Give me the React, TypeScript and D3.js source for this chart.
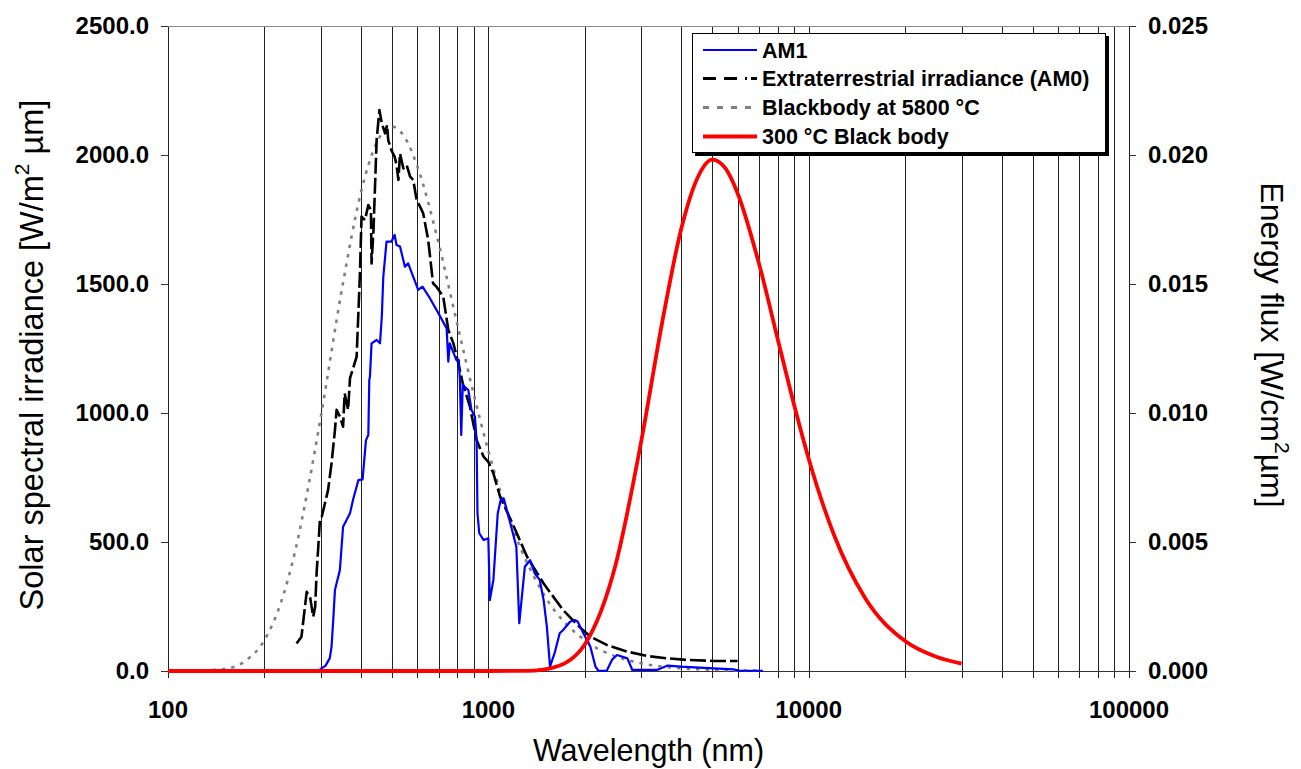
import React from "react";
import * as d3 from "d3";

// ---- data (wavelength nm, value) ----
const am1: [number, number][] = [
  [298, 6], [310, 20], [320, 50], [324, 94], [328, 198], [332, 314], [344, 391], [352, 559],
  [370, 611], [378, 663], [393, 740], [405, 743], [415, 895], [422, 915], [425, 1128],
  [427, 1141], [432, 1270], [448, 1283], [459, 1270], [465, 1373], [470, 1528], [481, 1664],
  [498, 1664], [510, 1690], [517, 1651], [530, 1645], [549, 1567], [562, 1580], [583, 1528],
  [604, 1477], [623, 1490], [657, 1445], [698, 1387], [741, 1328], [750, 1199], [758, 1270],
  [795, 1205], [809, 1205], [815, 1128], [823, 915], [832, 1108], [866, 1089], [886, 1012],
  [908, 986], [919, 895], [925, 611], [937, 534], [966, 508], [1000, 514], [1011, 275],
  [1037, 353], [1070, 611], [1093, 663], [1117, 669], [1164, 585], [1223, 482], [1249, 185],
  [1300, 404], [1350, 430], [1395, 379], [1447, 353], [1488, 275], [1523, 172], [1558, 17],
  [1610, 69], [1670, 146], [1712, 159], [1799, 191], [1862, 198], [1900, 192], [1980, 146],
  [2083, 94], [2160, 17], [2206, 1], [2342, 1], [2431, 43], [2522, 62], [2717, 49],
  [2815, 4], [3359, 4], [3630, 21], [3990, 17], [5050, 10], [5830, 6], [6100, 1], [7200, 1],
];

const am0: [number, number][] = [
  [252, 107], [261, 133], [271, 307], [278, 283], [284, 210], [288, 249], [291, 379],
  [295, 495], [298, 585], [302, 598], [316, 701], [324, 805], [332, 934], [336, 1012],
  [344, 986], [352, 947], [356, 1076], [365, 1012], [370, 1135], [388, 1218], [397, 1528],
  [402, 1761], [412, 1748], [422, 1806], [430, 1787], [432, 1580], [438, 1709], [448, 2058],
  [457, 2174], [465, 2123], [476, 2084], [483, 2116], [487, 2058], [498, 2019], [510, 1993],
  [517, 1961], [524, 1903], [530, 2006], [543, 1948], [556, 1961], [570, 1916], [583, 1903],
  [597, 1826], [612, 1800], [626, 1774], [649, 1671], [672, 1503], [688, 1490], [723, 1451],
  [750, 1322], [778, 1270], [806, 1193], [832, 1115], [876, 1025], [919, 895], [966, 831],
  [1000, 811], [1037, 766], [1088, 676], [1201, 560], [1321, 443], [1488, 339], [1712, 236],
  [1910, 175], [2082, 133], [2342, 101], [2717, 75], [3130, 58], [3630, 49], [4156, 43],
  [5050, 39], [6000, 39],
];

const bb5800: [number, number][] = [
  [120, 0.3], [150, 8], [175, 40], [200, 120], [225, 264], [250, 470], [275, 723], [300, 986],
  [350, 1488], [400, 1854], [450, 2052], [500, 2110], [550, 2066], [600, 1957], [700, 1656],
  [800, 1344], [900, 1074], [1000, 854], [1200, 544], [1500, 291], [2000, 119], [2500, 56],
  [3000, 30], [4000, 10.6], [5000, 4.7], [7000, 1.2],
];

const bb300: [number, number][] = [
  [100, 0], [1000, 0], [1300, 0.000005], [1500, 0.000066], [1800, 0.00043], [2000, 0.00103],
  [2500, 0.00415], [3000, 0.00889], [3500, 0.0136], [4000, 0.01713], [4500, 0.01912],
  [5000, 0.01982], [5500, 0.01948], [6000, 0.01852], [7000, 0.01578], [8000, 0.01288],
  [9000, 0.01033], [10000, 0.00823], [12000, 0.00527], [15000, 0.00283], [20000, 0.00116],
  [25000, 0.00055], [30000, 0.00029],
];

const xTicks = [100, 1000, 10000, 100000];
const yLeftTicks = [0, 500, 1000, 1500, 2000, 2500];
const yRightTicks = [0, 0.005, 0.01, 0.015, 0.02, 0.025];
const legendLabels = ["AM1", "Extraterrestrial irradiance (AM0)", "Blackbody at 5800 °C", "300 °C Black body"];

const W = 1301;
const H = 769;
const L = 168, R = 1129, T = 26, B = 671;
const FONT = "'Liberation Sans', Arial, Helvetica, sans-serif";

export default function App() {
  const x = d3.scaleLog().domain([100, 100000]).range([L, R]);
  const yL = d3.scaleLinear().domain([0, 2500]).range([B, T]);
  const yR = d3.scaleLinear().domain([0, 0.025]).range([B, T]);

  const gridVals: number[] = [];
  [100, 1000, 10000].forEach((d) => {
    for (let m = 1; m <= 9; m++) gridVals.push(d * m);
  });
  gridVals.push(100000);

  const lineL = d3.line<[number, number]>().x((d) => x(d[0])).y((d) => yL(d[1]));
  const lineLSmooth = d3
    .line<[number, number]>()
    .x((d) => x(d[0]))
    .y((d) => yL(d[1]))
    .curve(d3.curveMonotoneX);
  const lineR = d3
    .line<[number, number]>()
    .x((d) => x(d[0]))
    .y((d) => yR(d[1]))
    .curve(d3.curveMonotoneX);

  const legendStyles = [
    { stroke: "#0000ff", width: 2.2, dash: undefined },
    { stroke: "#000000", width: 3, dash: "13,8,13,8,2,4" },
    { stroke: "#808080", width: 3, dash: "6,8" },
    { stroke: "#ff0000", width: 4, dash: undefined },
  ];
  const legRows = [50, 78.5, 107.5, 136.5];

  return (
    <svg
      width={W}
      height={H}
      style={{ position: "absolute", left: 0, top: 0, background: "#fff" }}
      fontFamily={FONT}
    >
      <rect x={0} y={0} width={W} height={H} fill="#fff" />
      {/* vertical gridlines */}
      {gridVals.map((v) => (
        <line
          key={"g" + v}
          x1={Math.round(x(v)) + 0.5}
          x2={Math.round(x(v)) + 0.5}
          y1={T}
          y2={B + 7}
          stroke="#222"
          strokeWidth={1}
        />
      ))}
      {/* top border */}
      <line x1={L} x2={R} y1={T + 0.5} y2={T + 0.5} stroke="#888" strokeWidth={1} />
      {/* bottom axis */}
      <line x1={L - 7} x2={R + 7} y1={B + 0.5} y2={B + 0.5} stroke="#333" strokeWidth={1} />
      {/* left ticks */}
      {yLeftTicks.map((v) => (
        <line key={"lt" + v} x1={L - 7} x2={L} y1={Math.round(yL(v)) + 0.5} y2={Math.round(yL(v)) + 0.5} stroke="#333" />
      ))}
      {/* right ticks */}
      {yRightTicks.map((v) => (
        <line key={"rt" + v} x1={R} x2={R + 7} y1={Math.round(yR(v)) + 0.5} y2={Math.round(yR(v)) + 0.5} stroke="#333" />
      ))}

      {/* series */}
      <path d={lineLSmooth(bb5800) || ""} fill="none" stroke="#808080" strokeWidth={2.6} strokeDasharray="3.5,6" />
      <path d={lineL(am0) || ""} fill="none" stroke="#000" strokeWidth={2.6} strokeDasharray="16,4" strokeLinejoin="round" />
      <path d={lineL(am1) || ""} fill="none" stroke="#0000ff" strokeWidth={2.2} strokeLinejoin="round" />
      <path d={lineR(bb300) || ""} fill="none" stroke="#ff0000" strokeWidth={3.8} />

      {/* left tick labels */}
      {yLeftTicks.map((v) => (
        <text key={"ll" + v} x={149} y={yL(v)} dy="0.35em" textAnchor="end" fontSize={24} fontWeight="bold">
          {v.toFixed(1)}
        </text>
      ))}
      {/* right tick labels */}
      {yRightTicks.map((v) => (
        <text key={"rl" + v} x={1148} y={yR(v)} dy="0.35em" textAnchor="start" fontSize={24} fontWeight="bold">
          {v.toFixed(3)}
        </text>
      ))}
      {/* x tick labels */}
      {xTicks.map((v) => (
        <text key={"xl" + v} x={x(v)} y={718} textAnchor="middle" fontSize={24} fontWeight="bold">
          {String(v)}
        </text>
      ))}

      {/* axis titles */}
      <text x={(L + R) / 2} y={761} textAnchor="middle" fontSize={30.5}>
        Wavelength (nm)
      </text>
      <text transform="translate(43,355) rotate(-90)" textAnchor="middle" fontSize={32.5}>
        Solar spectral irradiance [W/m
        <tspan fontSize={21} dy={-14}>2</tspan>
        <tspan dy={14}> µm]</tspan>
      </text>
      <text transform="translate(1261,345) rotate(90)" textAnchor="middle" fontSize={32}>
        Energy flux [W/cm
        <tspan fontSize={21} dy={-14}>2</tspan>
        <tspan dy={14}>µm]</tspan>
      </text>

      {/* legend */}
      <rect x={695} y={36} width={414} height={120} fill="#000" />
      <rect x={692.5} y={33.5} width={413} height={119} fill="#fff" stroke="#000" strokeWidth={1} />
      {legendLabels.map((lab, i) => (
        <g key={"leg" + i}>
          <line
            x1={703}
            x2={757}
            y1={legRows[i]}
            y2={legRows[i]}
            stroke={legendStyles[i].stroke}
            strokeWidth={legendStyles[i].width}
            strokeDasharray={legendStyles[i].dash}
          />
          <text x={762} y={legRows[i] + 7.5} fontSize={21.5} fontWeight="bold">
            {lab}
          </text>
        </g>
      ))}
    </svg>
  );
}
